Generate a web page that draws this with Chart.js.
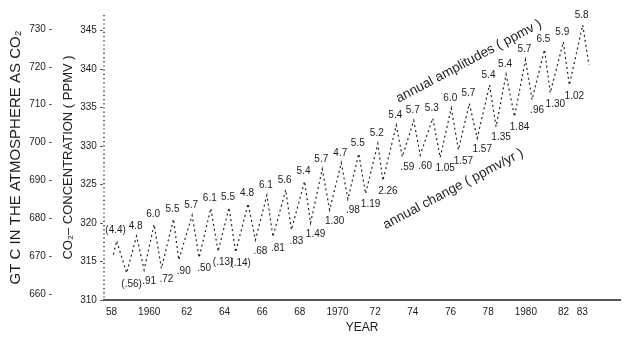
<!DOCTYPE html>
<html>
<head>
<meta charset="utf-8">
<script src="https://cdn.jsdelivr.net/npm/chart.js@4.4.1/dist/chart.umd.min.js"></script>
<style>
  html, body { margin: 0; padding: 0; background: #fff; }
</style>
</head>
<body>
<canvas id="co2Chart" width="626" height="338"></canvas>
<script>
// Seasonal maxima (May) and minima (autumn) of the Mauna Loa record
const peakYear = [1958.27, 1959.33, 1960.26, 1961.29, 1962.28, 1963.27, 1964.24, 1965.25, 1966.25,
                  1967.25, 1968.25, 1969.19, 1970.20, 1971.13, 1972.14, 1973.12, 1974.05, 1975.06,
                  1976.04, 1977.00, 1978.07, 1978.95, 1979.98, 1980.99, 1981.99, 1983.02];
const peakPpm = [317.7, 318.3, 319.8, 320.5, 321.0, 321.9, 322.0, 322.5, 323.6,
                 324.3, 325.4, 327.0, 327.8, 329.0, 330.3, 332.7, 333.3, 333.6,
                 334.9, 335.5, 337.9, 339.3, 341.2, 342.5, 343.5, 345.7];
const troughYear = [1958.80, 1959.73, 1960.65, 1961.57, 1962.65, 1963.66, 1964.59, 1965.64, 1966.57,
                    1967.55, 1968.57, 1969.58, 1970.55, 1971.49, 1972.41, 1973.44, 1974.39, 1975.45,
                    1976.42, 1977.42, 1978.42, 1979.40, 1980.33, 1981.30, 1982.31];
const troughPpm = [313.5, 313.9, 314.1, 315.2, 315.5, 316.3, 316.2, 317.8, 318.2,
                   319.1, 320.0, 321.7, 323.1, 323.8, 325.5, 328.6, 328.8, 328.5,
                   329.5, 331.0, 332.5, 333.8, 336.0, 336.9, 337.9];
// first and last measurements of the record
const firstPoint = { year: 1958.10, ppm: 315.9 };
const lastPoint = { year: 1983.35, ppm: 340.5 };

// numbers printed next to the peaks / troughs
const amplitudeLabels = ['(4.4)', '4.8', '6.0', '5.5', '5.7', '6.1', '5.5', '4.8', '6.1', '5.6', '5.4', '5.7', '4.7',
                         '5.5', '5.2', '5.4', '5.7', '5.3', '6.0', '5.7', '5.4', '5.4', '5.7', '6.5', '5.9', '5.8'];
const changeLabels = ['(.56)', '.91', '.72', '.90', '.50', '(.13)', '(.14)', '.68', '.81', '.83', '1.49', '1.30', '.98',
                      '1.19', '2.26', '.59', '.60', '1.05', '1.57', '1.57', '1.35', '1.84', '.96', '1.30', '1.02'];

// axis ticks
const xTickYears = [1958, 1960, 1962, 1964, 1966, 1968, 1970, 1972, 1974, 1976, 1978, 1980, 1982, 1983];
const xTickLabels = ['58', '1960', '62', '64', '66', '68', '1970', '72', '74', '76', '78', '1980', '82', '83'];
const ppmTicks = [310, 315, 320, 325, 330, 335, 340, 345];
const gtcTicks = [660, 670, 680, 690, 700, 710, 720, 730];

const FONT = '"Liberation Sans", Arial, Helvetica, sans-serif';
const INK = '#1c1c1c';

// build the zig-zag record: start, then peak / trough pairs, then the last value
function buildSeries() {
    const pts = [{ x: firstPoint.year, y: firstPoint.ppm }];
    peakYear.forEach((yr, i) => {
        pts.push({ x: yr, y: peakPpm[i] });
        if (i < troughYear.length) pts.push({ x: troughYear[i], y: troughPpm[i] });
    });
    pts.push({ x: lastPoint.year, y: lastPoint.ppm });
    return pts;
}

// Plugin: dotted ppm axis, the amplitude / change numbers and the two slanted captions
const labelPlugin = {
    id: 'co2Labels',
    beforeDatasetsDraw(chart) {
        const ctx = chart.ctx, ys = chart.scales.y;
        ctx.save();
        ctx.strokeStyle = '#222';
        ctx.lineWidth = 1.4;
        ctx.setLineDash([1.2, 3]);
        ctx.beginPath();
        ctx.moveTo(ys.right, ys.top);
        ctx.lineTo(ys.right, ys.bottom);
        ctx.stroke();
        ctx.restore();
    },
    afterDatasetsDraw(chart, args, opts) {
        const ctx = chart.ctx;
        const xs = chart.scales.x, ys = chart.scales.y;
        ctx.save();
        ctx.fillStyle = INK;
        ctx.font = '10px ' + FONT;
        ctx.textAlign = 'center';
        ctx.textBaseline = 'middle';
        peakYear.forEach((yr, i) => {
            ctx.fillText(amplitudeLabels[i], xs.getPixelForValue(yr) - 1, ys.getPixelForValue(peakPpm[i]) - 10);
        });
        troughYear.forEach((yr, i) => {
            ctx.fillText(changeLabels[i], xs.getPixelForValue(yr) + 5, ys.getPixelForValue(troughPpm[i]) + 11);
        });

        ctx.font = '13.5px ' + FONT;
        ctx.textAlign = 'left';
        ctx.textBaseline = 'alphabetic';
        opts.captions.forEach(c => {
            ctx.save();
            ctx.translate(xs.getPixelForValue(c.year), ys.getPixelForValue(c.ppm));
            ctx.rotate(c.angle * Math.PI / 180);
            ctx.fillText(c.text, 0, 0);
            ctx.restore();
        });
        ctx.restore();
    }
};

const ctx = document.getElementById('co2Chart').getContext('2d');
new Chart(ctx, {
    type: 'line',
    data: {
        datasets: [{
            label: 'CO2',
            data: buildSeries(),
            borderColor: '#222',
            borderWidth: 1.2,
            borderDash: [2, 3],
            pointRadius: 0,
            tension: 0,
            fill: false,
            yAxisID: 'y'
        }]
    },
    options: {
        responsive: false,
        animation: false,
        layout: { padding: { top: 15, right: 6, left: 0, bottom: 0 } },
        plugins: {
            legend: { display: false },
            tooltip: { enabled: false },
            co2Labels: {
                captions: [
                    { text: 'annual amplitudes ( ppmv )', year: 1973.25, ppm: 335.6, angle: -28 },
                    { text: 'annual change ( ppmv/yr )', year: 1972.56, ppm: 319.2, angle: -28 }
                ]
            }
        },
        scales: {
            x: {
                type: 'linear',
                min: 1957.6,
                max: 1985.0,
                afterBuildTicks: s => { s.ticks = xTickYears.map(v => ({ value: v })); },
                afterFit: s => { s.height = 38; },
                grid: { display: false, drawTicks: false },
                border: { display: true, color: '#555', width: 2 },
                ticks: {
                    autoSkip: false,
                    maxRotation: 0,
                    minRotation: 0,
                    padding: 6,
                    color: INK,
                    font: { size: 10, family: FONT },
                    callback: v => xTickLabels[xTickYears.indexOf(v)]
                },
                title: {
                    display: true,
                    text: 'YEAR',
                    color: INK,
                    font: { size: 12, family: FONT },
                    padding: { top: 0, bottom: 3 }
                }
            },
            y: {
                type: 'linear',
                position: 'left',
                weight: 0,
                min: 310,
                max: 347,
                afterBuildTicks: s => { s.ticks = ppmTicks.map(v => ({ value: v })); },
                afterFit: s => { s.width = 46; },
                grid: { display: false, drawTicks: false },
                border: { display: false },
                ticks: {
                    padding: 1,
                    color: INK,
                    font: { size: 10, family: FONT },
                    callback: v => v + ' -'
                },
                title: {
                    display: true,
                    text: 'CO\u2082\u2013 CONCENTRATION ( PPMV )',
                    color: INK,
                    font: { size: 13, family: FONT },
                    padding: { top: 3, bottom: 0 }
                }
            },
            y2: {
                type: 'linear',
                position: 'left',
                weight: 1,
                min: 658.4,
                max: 733.7,
                afterBuildTicks: s => { s.ticks = gtcTicks.map(v => ({ value: v })); },
                afterFit: s => { s.width = 58; },
                grid: { display: false, drawTicks: false },
                border: { display: false },
                ticks: {
                    padding: 6,
                    color: INK,
                    font: { size: 10, family: FONT },
                    callback: v => v + ' -'
                },
                title: {
                    display: true,
                    text: 'GT C IN THE ATMOSPHERE AS CO\u2082',
                    color: INK,
                    font: { size: 15, family: FONT },
                    padding: { top: 7, bottom: 0 }
                }
            }
        }
    },
    plugins: [labelPlugin]
});
</script>
</body>
</html>
